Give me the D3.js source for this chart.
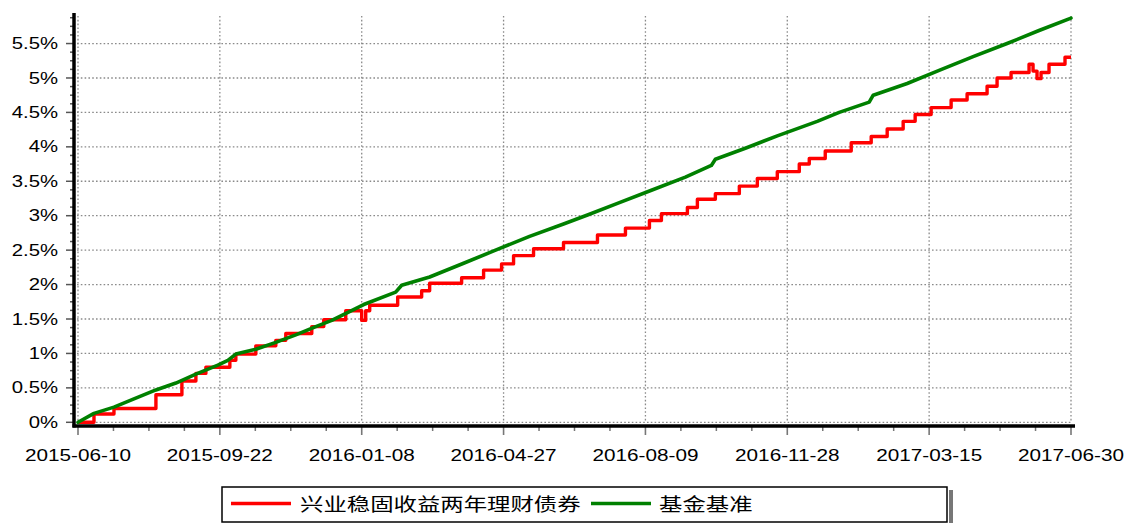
<!DOCTYPE html>
<html><head><meta charset="utf-8">
<script src="https://cdn.jsdelivr.net/npm/d3@7"></script>
<style>html,body{margin:0;padding:0;background:#fff;}svg{display:block;}</style>
</head><body>
<svg id="c" width="1126" height="523"></svg>
<script>
// ---- data ----
const xTickLabels = ["2015-06-10","2015-09-22","2016-01-08","2016-04-27","2016-08-09","2016-11-28","2017-03-15","2017-06-30"];
const xTickIndex = [0,71,142,213,284,355,426,497];
const yTicks = [0,0.5,1,1.5,2,2.5,3,3.5,4,4.5,5,5.5];
const seriesNames = ["兴业稳固收益两年理财债券","基金基准"];
// fund (step series): trading-day index where a new level starts, and the level (%)
const fundIdx = [0,8,18,39,52,59,64,76,79,89,99,104,117,123,134,142,144,146,160,172,176,192,203,212,218,228,243,260,274,286,292,305,310,319,331,340,350,361,366,374,387,397,405,413,419,427,437,445,455,460,467,476,478,480,482,486,494,497];
const fundVal = [0,0.12,0.20,0.40,0.60,0.71,0.80,0.90,0.99,1.11,1.19,1.29,1.39,1.49,1.62,1.48,1.62,1.70,1.82,1.91,2.02,2.10,2.21,2.30,2.42,2.52,2.61,2.72,2.82,2.93,3.03,3.12,3.24,3.32,3.43,3.54,3.64,3.75,3.83,3.94,4.06,4.15,4.26,4.37,4.47,4.57,4.68,4.77,4.88,5.00,5.08,5.20,5.10,4.99,5.08,5.20,5.30,5.30];
// benchmark
const benchIdx = [0,8,18,28,39,49,59,70,75,79,89,99,109,119,127,143,159,162,176,193,209,226,243,255,270,287,304,317,319,334,350,370,381,396,398,415,431,448,465,481,497];
const benchVal = [0,0.13,0.22,0.34,0.47,0.57,0.70,0.83,0.90,0.99,1.06,1.16,1.27,1.39,1.48,1.71,1.89,1.99,2.11,2.31,2.50,2.70,2.88,3.01,3.18,3.37,3.56,3.73,3.82,3.98,4.16,4.37,4.50,4.65,4.75,4.92,5.11,5.31,5.50,5.69,5.87];

const fund = fundIdx.map((d,i)=>({i:d,v:fundVal[i]}));
const bench = benchIdx.map((d,i)=>({i:d,v:benchVal[i]}));

const svg = d3.select("#c");
const x = d3.scaleLinear().domain([0,497]).range([78,1071]);
const y = d3.scaleLinear().domain([0,5.9]).range([422.3,16]);
const axisY = 426, axisX = 74;

// gridlines
const grid = svg.append("g").attr("stroke","#8a8a8a").attr("stroke-width",1.3).attr("stroke-dasharray","1.6,2.2");
grid.selectAll("line.h").data(yTicks).join("line")
  .attr("x1",77).attr("x2",x(497)).attr("y1",d=>y(d)).attr("y2",d=>y(d));
grid.selectAll("line.v").data(xTickIndex).join("line")
  .attr("x1",d=>x(d)).attr("x2",d=>x(d)).attr("y1",y(5.9)).attr("y2",y(0));

// ticks
const yMinor = d3.range(0,5.9001,0.125);
svg.append("g").attr("stroke","#555").attr("stroke-width",1.5)
  .selectAll("line").data(yMinor).join("line")
  .attr("x1",d=>Math.abs(d*2-Math.round(d*2))<1e-6?66:70).attr("x2",axisX)
  .attr("y1",d=>y(d)).attr("y2",d=>y(d));
const xMinor = [];
for(let k=0;k<xTickIndex.length-1;k++){const a=xTickIndex[k],b=xTickIndex[k+1];for(let j=1;j<4;j++)xMinor.push(a+(b-a)*j/4);}
svg.append("g").attr("stroke","#777").attr("stroke-width",1.5)
  .selectAll("line").data(xMinor).join("line")
  .attr("x1",d=>x(d)).attr("x2",d=>x(d)).attr("y1",axisY).attr("y2",431);
svg.append("g").attr("stroke","#777").attr("stroke-width",1.6)
  .selectAll("line").data(xTickIndex).join("line")
  .attr("x1",d=>x(d)).attr("x2",d=>x(d)).attr("y1",axisY).attr("y2",435);

// axis lines
svg.append("line").attr("x1",axisX).attr("x2",axisX).attr("y1",13).attr("y2",axisY+1.5).attr("stroke","#000").attr("stroke-width",3.5);
svg.append("line").attr("x1",axisX-1.5).attr("x2",1075).attr("y1",axisY).attr("y2",axisY).attr("stroke","#000").attr("stroke-width",3.5);

// labels
const font = "'Liberation Sans', Arial, sans-serif";
svg.append("g").selectAll("g").data(yTicks).join("g")
  .attr("transform",d=>`translate(58,${y(d)+5.6}) scale(1.27,1)`)
  .append("text").attr("text-anchor","end").attr("font-family",font).attr("font-size",16).attr("fill","#000")
  .text(d=>d+"%");
svg.append("g").selectAll("g").data(xTickIndex).join("g")
  .attr("transform",d=>`translate(${x(d)},461) scale(1.22,1)`)
  .append("text").attr("text-anchor","middle").attr("font-family",font).attr("font-size",17).attr("fill","#000")
  .text((d,i)=>xTickLabels[i]);

// series
svg.append("path").attr("d",d3.line().x(d=>x(d.i)).y(d=>y(d.v)).curve(d3.curveStepAfter)(fund))
  .attr("fill","none").attr("stroke","#ff0000").attr("stroke-width",3.4).attr("stroke-linejoin","round");
svg.append("path").attr("d",d3.line().x(d=>x(d.i)).y(d=>y(d.v))(bench))
  .attr("fill","none").attr("stroke","#008000").attr("stroke-width",3.6).attr("stroke-linejoin","round").attr("stroke-linecap","round");

// legend
const lg = svg.append("g");
lg.append("rect").attr("x",949).attr("y",490).attr("width",4).attr("height",35).attr("fill","#777");
lg.append("rect").attr("x",222).attr("y",487).attr("width",725).attr("height",35).attr("fill","#fff").attr("stroke","#000").attr("stroke-width",1.5);
const colors = ["#ff0000","#008000"];
const lx = [231,591], tx = [300,659];
seriesNames.forEach((n,i)=>{
  lg.append("line").attr("x1",lx[i]).attr("x2",lx[i]+60).attr("y1",503.5).attr("y2",503.5).attr("stroke",colors[i]).attr("stroke-width",3.5);
  lg.append("g").attr("transform",`translate(${tx[i]},511) scale(1.3,1)`)
    .append("text").attr("font-family","'Noto Sans CJK SC', sans-serif").attr("font-size",18).attr("fill","#000").text(n);
});
</script>
</body></html>
